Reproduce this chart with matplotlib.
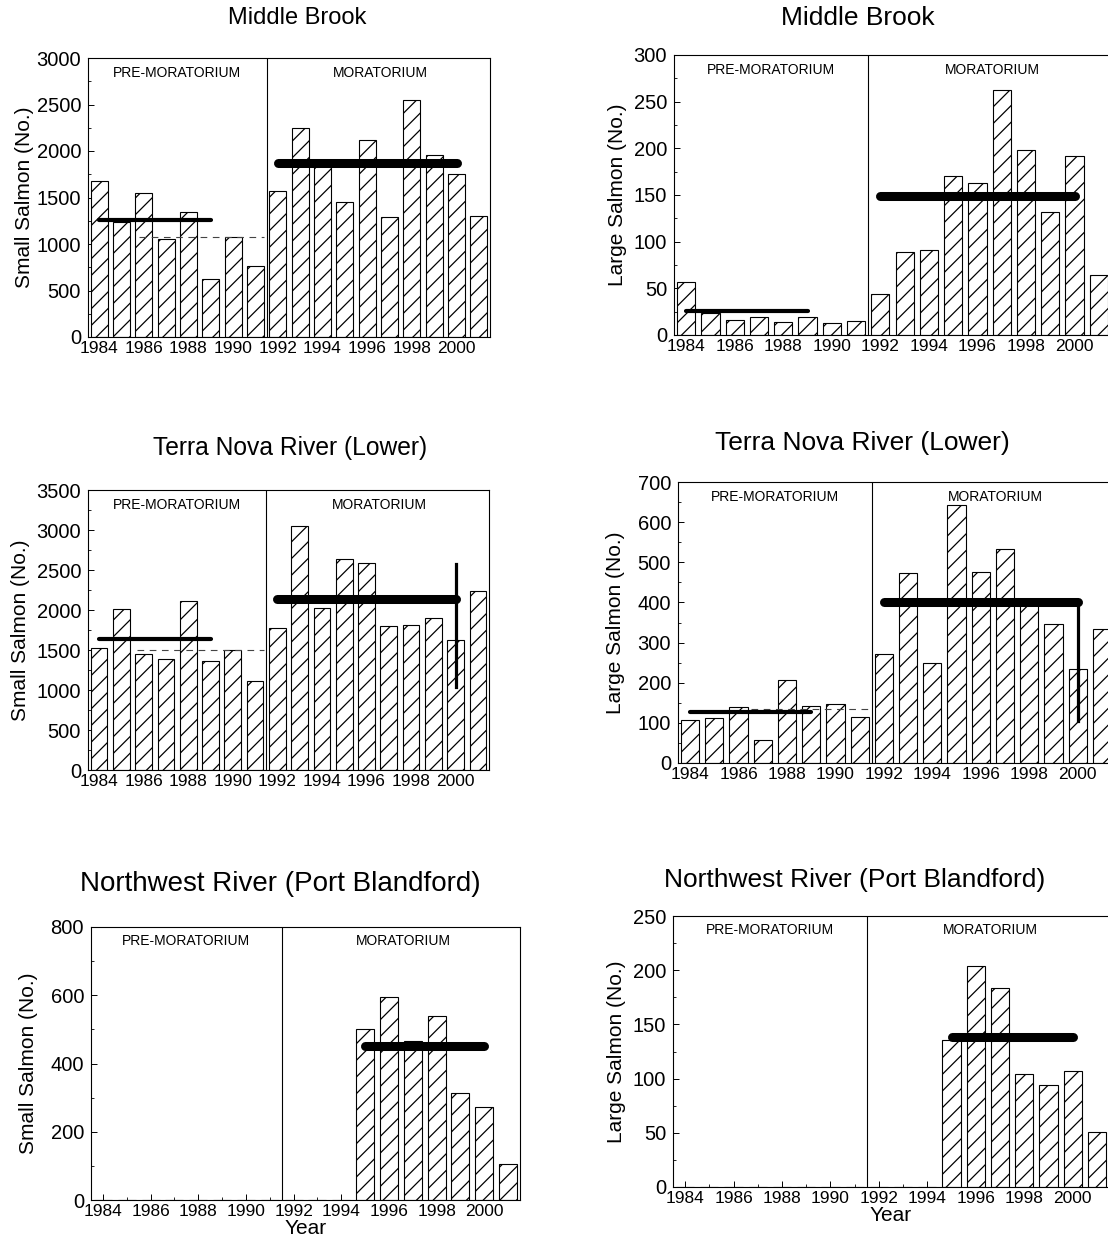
import matplotlib.pyplot as plt
import numpy as np
from matplotlib import rcParams

rcParams['font.family'] = ['Liberation Sans', 'DejaVu Sans']
rcParams['hatch.linewidth'] = 0.9

# ==================== data ====================
years = list(range(1984, 2002))

mb_small = [1680, 1240, 1550, 1050, 1340, 625, 1070, 760, 1565, 2250,
            1850, 1455, 2120, 1295, 2550, 1955, 1755, 1300]
mb_large = [57, 24, 16, 19, 14, 19, 13, 15, 44, 89,
            91, 170, 163, 263, 198, 132, 192, 64]
tn_small = [1520, 2010, 1445, 1390, 2110, 1365, 1500, 1115, 1775, 3050,
            2030, 2640, 2585, 1800, 1815, 1895, 1630, 2235]
tn_large = [108, 113, 140, 57, 207, 143, 146, 115, 272, 474,
            249, 642, 475, 532, 400, 347, 235, 335]
nw_small = [0, 0, 0, 0, 0, 0, 0, 0, 0, 0, 0, 500, 595, 465, 540, 315, 273, 106]
nw_large = [0, 0, 0, 0, 0, 0, 0, 0, 0, 0, 0, 136, 204, 184, 104, 94, 107, 51]

# mean lines: (start year, end year, value)
mb_small_pre = (1984, 1989, 1255)
mb_small_mor = (1992, 2000, 1870)
mb_small_dash = (1985.8, 1991.4, 1070)
mb_large_pre = (1984, 1989, 26)
mb_large_mor = (1992, 2000, 149)
tn_small_pre = (1984, 1989, 1640)
tn_small_mor = (1992, 2000, 2140)
tn_small_dash = (1985.7, 1991.4, 1500)
tn_small_vert = (2000, 1040, 2580)
tn_large_pre = (1984, 1989, 128)
tn_large_mor = (1992, 2000, 402)
tn_large_dash = (1986.5, 1991.4, 135)
tn_large_vert = (2000, 104, 402)
nw_small_mor = (1995, 2000, 450)
nw_large_mor = (1995, 2000, 138)

W, H = 1108, 1247
fig = plt.figure(figsize=(W / 100, H / 100), dpi=100)


def make_ax(left, right, top, bottom):
    return fig.add_axes([left / W, 1 - bottom / H, (right - left) / W, (bottom - top) / H])


def panel(ax, values, ymax, ystep, ylabel, pre=None, mor=None, dash=None, vert=None,
          xlabel=None, ylabelpad=4):
    ax.bar(years, values, width=0.75, color='white', edgecolor='black',
           linewidth=0.8, hatch='//', zorder=2)
    ax.set_xlim(1983.5, 2001.5)
    ax.set_ylim(0, ymax)
    ax.set_xticks(range(1984, 2001, 2))
    ax.set_xticks(years, minor=True)
    ax.set_yticks(np.arange(0, ymax + 1, ystep))
    ax.set_yticks(np.arange(0, ymax + 1, ystep / 2), minor=True)
    ax.tick_params(direction='in', length=4, width=0.7)
    ax.tick_params(axis='x', pad=3, labelsize=12.5)
    ax.tick_params(axis='y', pad=5, labelsize=14.5)
    ax.tick_params(which='minor', direction='in', length=2.5, width=0.6)
    for s in ax.spines.values():
        s.set_linewidth(0.8)
    ax.set_ylabel(ylabel, fontsize=15, labelpad=ylabelpad)
    if xlabel:
        ax.set_xlabel(xlabel, fontsize=15, labelpad=0)

    # split pre / moratorium
    ax.axvline(1991.5, color='black', lw=0.8, zorder=3)
    ax.text(1987.5, 0.947, 'PRE-MORATORIUM', fontsize=10, ha='center', va='center',
            transform=ax.get_xaxis_transform())
    ax.text(1996.6, 0.947, 'MORATORIUM', fontsize=10, ha='center', va='center',
            transform=ax.get_xaxis_transform())

    if dash:
        ax.plot([dash[0], dash[1]], [dash[2], dash[2]], color='#444444', lw=0.8,
                ls=(0, (6, 5)), zorder=3)
    if pre:
        ax.plot([pre[0], pre[1]], [pre[2], pre[2]], color='black', lw=3,
                solid_capstyle='round', zorder=4)
    if mor:
        ax.plot([mor[0], mor[1]], [mor[2], mor[2]], color='black', lw=6.5,
                solid_capstyle='round', zorder=4)
    if vert:
        ax.plot([vert[0], vert[0]], [vert[1], vert[2]], color='black', lw=2.3, zorder=4)


# ==================== top row: Middle Brook ====================
ax1 = make_ax(88, 490, 58, 337)
panel(ax1, mb_small, 3000, 500, 'Small Salmon (No.)', mb_small_pre, mb_small_mor,
      mb_small_dash, ylabelpad=2)
ax2 = make_ax(674, 1111, 55, 335)
panel(ax2, mb_large, 300, 50, 'Large Salmon (No.)', mb_large_pre, mb_large_mor, ylabelpad=5)

# ==================== middle row: Terra Nova ====================
ax3 = make_ax(88, 489, 490, 770)
panel(ax3, tn_small, 3500, 500, 'Small Salmon (No.)', tn_small_pre, tn_small_mor,
      tn_small_dash, tn_small_vert, ylabelpad=4.6)
ax4 = make_ax(678, 1114, 482, 763)
panel(ax4, tn_large, 700, 100, 'Large Salmon (No.)', tn_large_pre, tn_large_mor,
      tn_large_dash, tn_large_vert, ylabelpad=8.7)

# ==================== bottom row: Northwest River ====================
ax5 = make_ax(91, 520, 927, 1200)
panel(ax5, nw_small, 800, 200, 'Small Salmon (No.)', mor=nw_small_mor, xlabel='Year',
      ylabelpad=8.7)
ax6 = make_ax(673, 1109, 916, 1187)
panel(ax6, nw_large, 250, 50, 'Large Salmon (No.)', mor=nw_large_mor, xlabel='Year',
      ylabelpad=4.7)

# titles
fig.text(297 / W, 1 - 18 / H, 'Middle Brook', fontsize=17, ha='center', va='center')
fig.text(858 / W, 1 - 18 / H, 'Middle Brook', fontsize=19, ha='center', va='center')
fig.text(290 / W, 1 - 448 / H, 'Terra Nova River (Lower)', fontsize=17.7, ha='center', va='center')
fig.text(862 / W, 1 - 443 / H, 'Terra Nova River (Lower)', fontsize=19, ha='center', va='center')
fig.text(280 / W, 1 - 884 / H, 'Northwest River (Port Blandford)', fontsize=20, ha='center', va='center')
fig.text(855 / W, 1 - 880 / H, 'Northwest River (Port Blandford)', fontsize=19, ha='center', va='center')

plt.savefig('out.png', dpi=100, facecolor='white')
plt.close()
